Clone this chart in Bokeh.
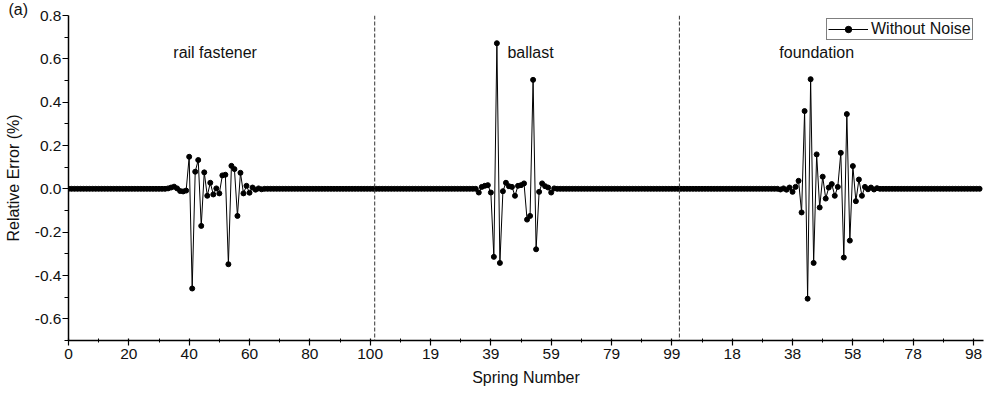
import numpy as np
from bokeh.plotting import figure
from bokeh.models import (Range1d, FixedTicker, NumeralTickFormatter, Span, Label,
                          Legend, LegendItem, ColumnDataSource)
from bokeh.embed import file_html
from bokeh.resources import INLINE

# ---------------- data ----------------
n_springs = 101  # springs 0..100 in each segment
segment_names = ["rail fastener", "ballast", "foundation"]

rail_start = 33
rail_err = [0.002, 0.006, 0.010, 0.002, -0.010, -0.012, -0.008, 0.148, -0.460, 0.079,
            0.133, -0.171, 0.076, -0.032, 0.028, -0.026, 0.002, -0.021, 0.062, 0.065,
            -0.348, 0.106, 0.091, -0.125, 0.074, -0.021, 0.014, -0.018, 0.006, -0.004,
            0.002, -0.002]

ballast_start = 35
ballast_err = [-0.017, 0.009, 0.014, 0.017, -0.017, -0.314, 0.672, -0.342, -0.011, 0.028,
               0.012, 0.009, -0.032, 0.014, 0.017, 0.025, -0.142, -0.125, 0.503, -0.279,
               -0.014, 0.025, 0.012, 0.006, -0.017, 0.002]

foundation_start = 34
foundation_err = [-0.003, 0.002, -0.004, 0.006, -0.014, 0.009, 0.037, -0.109, 0.359, -0.507,
                  0.506, -0.342, 0.159, -0.086, 0.056, -0.045, 0.006, 0.022, -0.032, 0.009,
                  0.166, -0.317, 0.345, -0.239, 0.105, -0.057, 0.043, -0.032, 0.009, -0.002,
                  0.006, -0.003, 0.003]

tick_labels = ["0", "20", "40", "60", "80", "100", "19", "39", "59", "79", "99",
               "18", "38", "58", "78", "98"]
y_ticks = [-0.6, -0.4, -0.2, 0.0, 0.2, 0.4, 0.6, 0.8]
series_name = "Without Noise"
panel_tag = "(a)"

# ---------------- build series ----------------
def segment(start, vals):
    arr = np.zeros(n_springs)
    arr[start:start + len(vals)] = vals
    return arr

err = np.concatenate([segment(rail_start, rail_err),
                      segment(ballast_start, ballast_err),
                      segment(foundation_start, foundation_err)])
idx = np.arange(len(err))
src = ColumnDataSource(dict(x=idx, y=err))

FONT = "Liberation Sans"
TXT = "#111111"

p = figure(width=985, height=394, output_backend="svg", toolbar_location=None,
           x_range=Range1d(0, 303.3), y_range=Range1d(-0.7, 0.8),
           min_border_left=68, min_border_right=2, min_border_top=0, min_border_bottom=54,
           title=panel_tag)
p.outline_line_color = None
p.xgrid.visible = False
p.ygrid.visible = False
p.background_fill_color = "white"
p.border_fill_color = "white"

p.title.align = "left"
p.title.vertical_align = "bottom"
p.title.offset = -60
p.title.standoff = -4
p.title.text_font = FONT
p.title.text_font_size = "16px"
p.title.text_font_style = "normal"
p.title.text_color = TXT
p.title.text_line_height = 1.0

# separators
for k in range(1, 3):
    p.add_layout(Span(location=k * n_springs + 0.5, dimension="height",
                      line_color="#333333", line_width=1, line_dash="4 2"))

ln = p.line("x", "y", source=src, line_color="black", line_width=1)
sc = p.scatter("x", "y", source=src, size=5, color="black")

# axes
xt = list(range(0, 301, 20))
p.xaxis.ticker = FixedTicker(ticks=xt, minor_ticks=list(range(10, 300, 20)))
p.xaxis.major_label_overrides = {t: lab for t, lab in zip(xt, tick_labels)}
p.yaxis.ticker = FixedTicker(ticks=y_ticks, minor_ticks=[-0.7, -0.5, -0.3, -0.1, 0.1, 0.3, 0.5, 0.7])
p.yaxis.formatter = NumeralTickFormatter(format="0.0")
p.xaxis.axis_label = "Spring Number"
p.yaxis.axis_label = "Relative Error (%)"
for ax in (p.xaxis, p.yaxis):
    ax.axis_line_color = "black"
    ax.axis_line_width = 1.5
    ax.major_tick_line_color = "black"
    ax.minor_tick_line_color = "black"
    ax.major_tick_line_width = 1.2
    ax.minor_tick_line_width = 1
    ax.major_label_text_font = FONT
    ax.major_label_text_font_size = "15.5px"
    ax.major_label_text_color = TXT
    ax.axis_label_text_font = FONT
    ax.axis_label_text_font_size = "16px"
    ax.axis_label_text_font_style = "normal"
    ax.axis_label_text_color = TXT
p.xaxis.major_tick_out = 5
p.xaxis.major_tick_in = 2
p.xaxis.minor_tick_out = 2
p.xaxis.minor_tick_in = 2
p.xaxis.major_label_standoff = 3
p.xaxis.axis_label_standoff = 7
p.yaxis.major_tick_out = 6
p.yaxis.major_tick_in = 0
p.yaxis.minor_tick_out = 4
p.yaxis.minor_tick_in = 0
p.yaxis.major_label_standoff = 1
p.yaxis.axis_label_standoff = 10

# segment annotations
ann_x = [48.6, 145.5, 248]
ann_align = ["center", "left", "center"]
for name, xx, al in zip(segment_names, ann_x, ann_align):
    p.add_layout(Label(x=xx, y=0.627, text=name, text_align=al, text_baseline="middle",
                       text_font=FONT, text_font_size="16px", text_color=TXT))

legend = Legend(items=[LegendItem(label=series_name, renderers=[ln, sc])],
                location=(758, 300), orientation="vertical")
legend.border_line_color = "black"
legend.border_line_width = 1
legend.background_fill_alpha = 1
legend.padding = 1
legend.margin = 0
legend.spacing = 0
legend.glyph_width = 40
legend.glyph_height = 16
legend.label_height = 16
legend.label_standoff = 3
legend.label_text_font = FONT
legend.label_text_font_size = "16px"
legend.label_text_color = TXT
p.add_layout(legend)

open("out.html", "w").write(file_html(p, INLINE))
